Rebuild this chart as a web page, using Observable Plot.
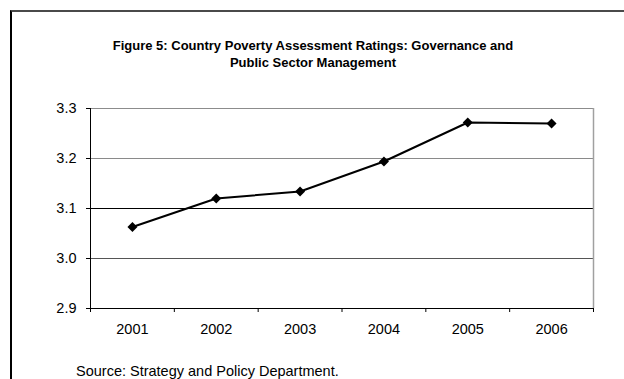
<!DOCTYPE html>
<html><head><meta charset="utf-8">
<script src="https://cdn.jsdelivr.net/npm/d3@7"></script>
<script src="https://cdn.jsdelivr.net/npm/@observablehq/plot@0.6"></script>
<style>
body{margin:0;background:#fff;font-family:"Liberation Sans",Arial,sans-serif;color:#000;}
#wrap{position:relative;width:624px;height:379px;overflow:hidden;background:#fff;}
#frame{position:absolute;left:10px;top:10px;width:700px;height:500px;border-top:2px solid #4a4a4a;border-left:2px solid #000;}
#chart{position:absolute;left:0;top:0;}
#title{position:absolute;left:0;width:626px;top:37px;text-align:center;font-weight:bold;font-size:13px;line-height:17px;}
#source{position:absolute;left:76px;top:363px;font-size:14.5px;line-height:16px;white-space:nowrap;}
</style></head>
<body>
<div id="wrap">
  <div id="frame"></div>
  <div id="chart"></div>
  <div id="title">Figure 5: Country Poverty Assessment Ratings: Governance and<br>Public Sector Management</div>
  <div id="source">Source: Strategy and Policy Department.</div>
</div>
<script>
const years = [2001, 2002, 2003, 2004, 2005, 2006];
const ratings = [3.063, 3.120, 3.134, 3.194, 3.272, 3.270];
const yTicks = [2.9, 3.0, 3.1, 3.2, 3.3];
const gridLines = [3.0, 3.1, 3.2];

const data = years.map((year, i) => ({year, rating: ratings[i]}));
const bounds = d3.range(years.length + 1).map(i => years[0] - 0.5 + i);
const gridColor = d => d === 3.1 ? "#000" : d === 3.0 ? "#555" : "#8a8a8a";

const diamond = {
  draw(ctx, size) {
    const h = Math.sqrt(size / Math.PI);
    ctx.moveTo(0, -h); ctx.lineTo(h, 0); ctx.lineTo(0, h); ctx.lineTo(-h, 0); ctx.closePath();
  }
};

const chart = Plot.plot({
  width: 624, height: 379,
  marginLeft: 90, marginRight: 31, marginTop: 108, marginBottom: 71,
  style: {background: "transparent", fontFamily: "Liberation Sans, Arial, sans-serif", fontSize: "14.5px", color: "#000", overflow: "visible"},
  x: {type: "linear", domain: [bounds[0], bounds[bounds.length - 1]]},
  y: {domain: [yTicks[0], yTicks[yTicks.length - 1]]},
  color: {type: "identity"},
  marks: [
    Plot.ruleY(gridLines, {y: d => d, stroke: d => gridColor(d)}),
    Plot.ruleY([yTicks[yTicks.length - 1]], {stroke: "#8c8c8c"}),
    Plot.ruleX([bounds[bounds.length - 1]], {stroke: "#a0a0a0", strokeWidth: 1.5}),
    Plot.axisY({ticks: yTicks, tickSize: 4, tickPadding: 10, tickFormat: d3.format(".1f"), fontSize: 14.5, label: null, stroke: "#000"}),
    Plot.axisX({ticks: years, tickSize: 0, tickPadding: 15, tickFormat: d => String(d), fontSize: 14.5, label: null}),
    Plot.axisX({ticks: bounds, tickSize: 4, tickFormat: () => "", label: null, stroke: "#000"}),
    Plot.ruleY([yTicks[0]], {stroke: "#000"}),
    Plot.ruleX([bounds[0]], {stroke: "#000"}),
    Plot.line(data, {x: "year", y: "rating", stroke: "#000", strokeWidth: 2}),
    Plot.dot(data, {x: "year", y: "rating", symbol: diamond, r: 5, fill: "#000", stroke: "none"})
  ]
});
document.getElementById("chart").appendChild(chart);
</script>
</body></html>
